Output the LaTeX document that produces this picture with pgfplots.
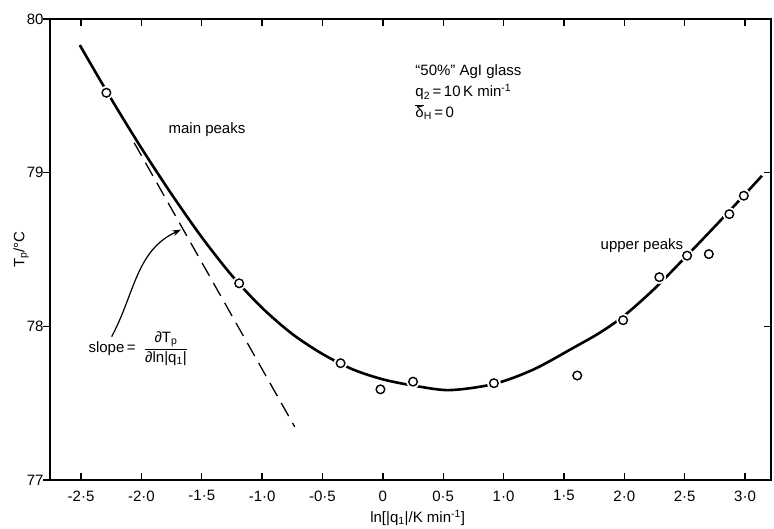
\documentclass[border=0pt]{standalone}
\usepackage{pgfplots}
\pgfplotsset{compat=1.18}
\usepackage{fontspec}
\setmainfont{Liberation Sans}
\usetikzlibrary{arrows.meta}

\newcommand\lf{\fontsize{15}{18}\selectfont}

\pgfplotsset{base/.style={
    scale only axis, width=721pt, height=461pt,
    xmin=-2.757, xmax=3.215, ymin=77, ymax=80,
    axis line style={line width=1.3pt},
    major tick length=7pt,
    every tick/.style={line width=1.3pt, black},
    tick label style={font=\lf},
    /pgf/number format/assume math mode=true,
}}

\begin{document}
\begin{tikzpicture}
  % left axis: ticks pointing outward, labels
  \begin{axis}[base, hide x axis,
      ytick={77,78,79,80}, ytick pos=left, tick align=outside,
      yticklabel style={xshift=4pt},
      ylabel={T\textsubscript{p}/°C},
      ylabel style={at={(axis description cs:-0.040,0.50)}, anchor=center, font=\lf}]
  \end{axis}

  % main axis with data
  \begin{axis}[base,
      tick align=inside,
      xtick={-2.5,-2.0,-1.5,-1.0,-0.5,0,0.5,1.0,1.5,2.0,2.5,3.0},
      xticklabels={-2·5,-2·0,-1·5,-1·0,-0·5,0,0·5,1·0,1·5,2·0,2·5,3·0},
      xtick pos=both,
      xticklabel style={yshift=-7pt},
      ytick={77,78,79,80}, ytick pos=right, yticklabels={},
      xlabel={ln[|q\textsubscript{1}|/K min\textsuperscript{-1}]},
      xlabel style={at={(axis description cs:0.51,-0.082)}, anchor=center, font=\lf}]

    % thicker bottom frame
    \draw[line width=2.6pt] (rel axis cs:0,0) -- (rel axis cs:1,0);

    % fitted curve
    \addplot[smooth, line width=2.6pt, black] coordinates {
      (-2.51,79.83) (-2.25,79.48) (-2.0,79.16) (-1.75,78.86) (-1.5,78.58)
      (-1.25,78.33) (-1.0,78.12) (-0.75,77.95) (-0.5,77.82) (-0.25,77.72)
      (0.0,77.655) (0.25,77.615) (0.55,77.585) (0.92,77.625) (1.25,77.72)
      (1.6,77.87) (1.8,77.96) (2.0,78.07) (2.25,78.245) (2.5,78.445)
      (2.75,78.65) (3.0,78.86) (3.14,78.98)};

    % tangent at the main peaks
    \addplot[line width=1.3pt, black, dash pattern=on 15pt off 8pt] coordinates {
      (-2.06,79.195) (-0.73,77.346)};

    % measured peak temperatures
    \addplot[only marks, mark=*, mark size=6.5pt,
      mark options={fill=white, draw=white}] coordinates {
      (-2.29,79.52) (-1.19,78.28) (-0.35,77.76) (-0.02,77.59) (0.25,77.64)
      (0.92,77.63) (1.61,77.68) (1.99,78.04) (2.29,78.32) (2.52,78.46)
      (2.70,78.47) (2.87,78.73) (2.99,78.85)};
    \addplot[only marks, mark=o, mark size=4.3pt,
      mark options={fill=white, draw=black, line width=1.4pt}] coordinates {
      (-2.29,79.52) (-1.19,78.28) (-0.35,77.76) (-0.02,77.59) (0.25,77.64)
      (0.92,77.63) (1.61,77.68) (1.99,78.04) (2.29,78.32) (2.52,78.46)
      (2.70,78.47) (2.87,78.73) (2.99,78.85)};

    % annotations
    \node[anchor=base west, font=\lf] at (axis cs:0.241,79.631) {“50\%” AgI glass};
    \node[anchor=base west, font=\lf] at (axis cs:0.241,79.494) {q\textsubscript{2}\,=\,10\,K min\textsuperscript{-1}};
    \node[anchor=base west, font=\lf] at (axis cs:0.241,79.360) {$\overline{\mbox{δ}}$\textsubscript{H}\,=\,0};
    \node[anchor=base west, font=\lf] at (axis cs:-1.804,79.258) {main peaks};
    \node[anchor=base west, font=\lf] at (axis cs:1.775,78.50) {upper peaks};
    \node[anchor=base west, font=\lf] at (axis cs:-2.467,77.83)
      {slope\,=\ \ $\displaystyle\frac{\mbox{∂T\textsubscript{p}}}{\mbox{∂ln|q\textsubscript{1}|}}$};
    \draw[line width=1.2pt, -{Stealth[length=9pt,width=6pt]}]
      (axis cs:-2.246,77.933) to[out=62, in=205] (axis cs:-1.67,78.63);

    \coordinate (bl) at (rel axis cs:0,0);
    \coordinate (tr) at (rel axis cs:1,1);
  \end{axis}
  \pgfresetboundingbox
  \path[use as bounding box] ([shift={(-50pt,-48pt)}]bl) rectangle ([shift={(3pt,19pt)}]tr);
\end{tikzpicture}
\end{document}
